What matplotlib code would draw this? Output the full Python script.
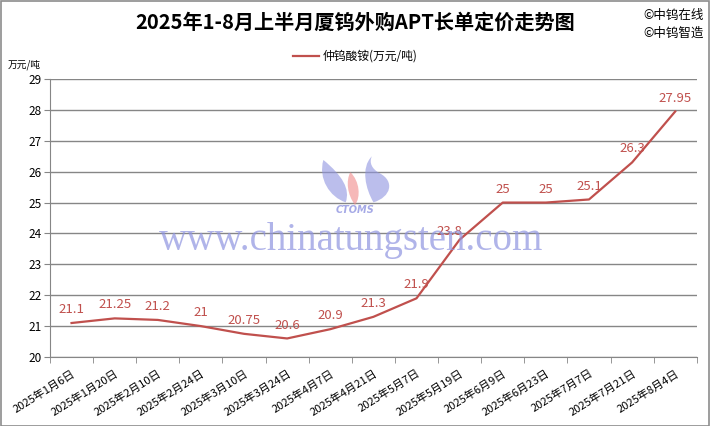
import numpy as np
import matplotlib
matplotlib.use("Agg")
import matplotlib.pyplot as plt
from matplotlib.patches import Rectangle, PathPatch
from matplotlib.path import Path

plt.rcParams['font.family'] = ['Noto Sans CJK SC', 'DejaVu Sans']

# datos
fechas = ["2025年1月6日", "2025年1月20日", "2025年2月10日", "2025年2月24日",
          "2025年3月10日", "2025年3月24日", "2025年4月7日", "2025年4月21日",
          "2025年5月7日", "2025年5月19日", "2025年6月9日", "2025年6月23日",
          "2025年7月7日", "2025年7月21日", "2025年8月4日"]
precios = [21.1, 21.25, 21.2, 21, 20.75, 20.6, 20.9, 21.3,
           21.9, 23.8, 25, 25, 25.1, 26.3, 27.95]
etiquetas = ["21.1", "21.25", "21.2", "21", "20.75", "20.6", "20.9", "21.3",
             "21.9", "23.8", "25", "25", "25.1", "26.3", "27.95"]
yticks = [20, 21, 22, 23, 24, 25, 26, 27, 28, 29]

color = "#C0504D"

fig = plt.figure(figsize=(7.1, 4.26), dpi=100)
ax = fig.add_axes([0.0704, 0.162, 0.911, 0.6525])

x = np.arange(len(fechas))
ax.plot(x, precios, color=color, lw=1.6, label="仲钨酸铵(万元/吨)", zorder=3)

# etiquetas de datos
for i, (xi, yi) in enumerate(zip(x, precios)):
    dx, dy = 0, 5
    if i == 9:
        dx, dy = -7, 1
    ax.annotate(etiquetas[i], (xi, yi), xytext=(dx, dy), textcoords="offset points",
                ha="center", va="bottom", color=color, fontsize=9.5, zorder=4)

ax.set_xlim(-0.5, len(fechas) - 0.5)
ax.set_ylim(20, 29)
ax.set_yticks(yticks)
ax.set_yticklabels([str(v) for v in yticks], fontsize=8.5)
ax.grid(axis="y", color="#868686", lw=1)
ax.set_axisbelow(True)

ax.set_xticks(x)
ax.set_xticklabels(fechas, rotation=32, ha="right", rotation_mode="anchor", fontsize=8)
ax.set_xticks(np.arange(-0.5, len(fechas), 1), minor=True)
ax.tick_params(axis="x", which="major", length=0, pad=8)
ax.tick_params(axis="x", which="minor", length=4, color="#868686", direction="out")
ax.tick_params(axis="y", length=4, color="#868686", direction="out", pad=2)

for s in ["top", "right"]:
    ax.spines[s].set_visible(False)
for s in ["left", "bottom"]:
    ax.spines[s].set_color("#868686")

# textos
fig.text(0.5, 0.948, "2025年1-8月上半月厦钨外购APT长单定价走势图", ha="center", va="center",
         fontsize=14.5, fontweight="bold")
fig.text(0.906, 0.963, "©中钨在线", ha="left", va="center", fontsize=9)
fig.text(0.906, 0.922, "©中钨智造", ha="left", va="center", fontsize=9)
fig.text(0.011, 0.847, "万元/吨", ha="left", va="center", fontsize=7)

fig.legend(loc="center", bbox_to_anchor=(0.5, 0.868), frameon=False, fontsize=8.5,
           handlelength=2.2, handletextpad=0.3)

# marca de agua
fig.text(0.495, 0.435, "www.chinatungsten.com", ha="center", va="center",
         fontsize=28, family="Liberation Serif", color="#8f94e0", alpha=0.7, zorder=0)
fig.text(0.5, 0.507, "CTOMS", ha="center", va="center", fontsize=7, fontweight="bold",
         fontstyle="italic", color="#8f94e0", alpha=0.8, family="DejaVu Sans")

# logo (aprox)
logo = fig.add_axes([318 / 710, 1 - 205 / 426, 77 / 710, 53 / 426])
logo.set_xlim(0, 1)
logo.set_ylim(0, 1)
logo.axis("off")
C4 = Path.CURVE4
izq = Path([(0.07, 0.85), (0.0, 0.5), (0.15, 0.15), (0.36, 0.05),
            (0.42, 0.3), (0.32, 0.55), (0.07, 0.85)],
           [Path.MOVETO, C4, C4, C4, C4, C4, C4])
der = Path([(0.70, 0.92), (0.55, 0.7), (0.62, 0.3), (0.72, 0.05),
            (0.95, 0.15), (1.0, 0.45), (0.8, 0.6),
            (0.7, 0.68), (0.66, 0.8), (0.70, 0.92)],
           [Path.MOVETO, C4, C4, C4, C4, C4, C4, C4, C4, C4])
rosa = Path([(0.42, 0.62), (0.54, 0.45), (0.56, 0.15), (0.48, 0.0),
             (0.38, 0.2), (0.36, 0.45), (0.42, 0.62)],
            [Path.MOVETO, C4, C4, C4, C4, C4, C4])
logo.add_patch(PathPatch(izq, fc="#8f94e0", ec="none", alpha=0.6))
logo.add_patch(PathPatch(der, fc="#8f94e0", ec="none", alpha=0.6))
logo.add_patch(PathPatch(rosa, fc="#f08a8a", ec="none", alpha=0.6))

fig.patches.append(Rectangle((0.001, 0.001), 0.997, 0.997, transform=fig.transFigure,
                             fill=False, edgecolor="#8c8c8c", lw=1.2))

fig.savefig("out.png", dpi=100)
